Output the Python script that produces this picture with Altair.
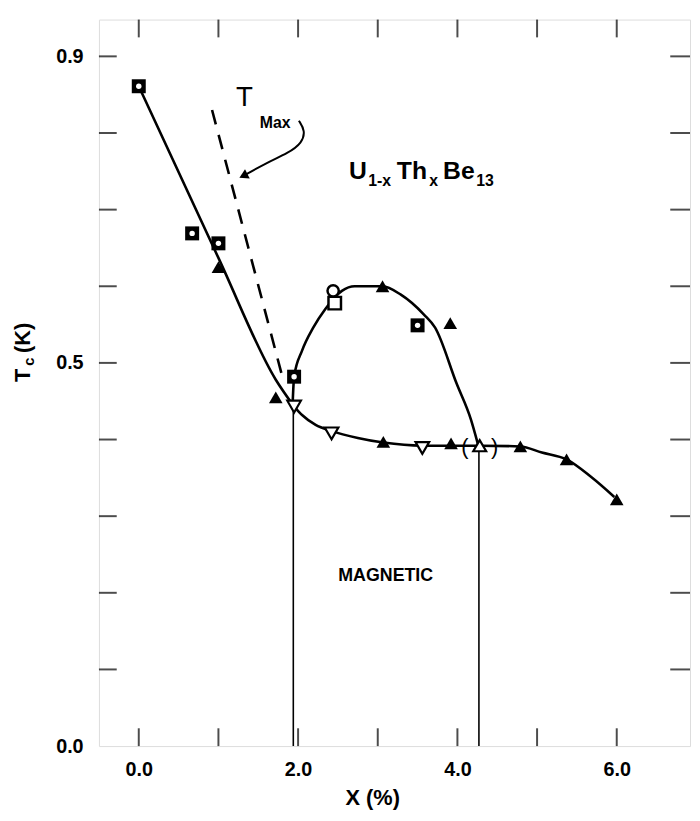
import altair as alt
import pandas as pd

# ---------------- data ----------------
x_tick_vals = [0, 1, 2, 3, 4, 5, 6]
y_tick_vals = [0.1, 0.2, 0.3, 0.4, 0.5, 0.6, 0.7, 0.8, 0.9]
x_label_vals = [0.0, 2.0, 4.0, 6.0]
y_label_vals = [0.0, 0.5, 0.9]

# open squares (with hole) -- measurement set 1
sq_x = [0.0, 0.67, 1.0, 1.95, 3.5]
sq_y = [0.861, 0.669, 0.656, 0.482, 0.549]
# plain open square and open circle near x=2.45
osq_x = [2.46]
osq_y = [0.578]
oc_x = [2.44]
oc_y = [0.594]
# filled up-triangles
ft_x = [1.0, 1.72, 3.06, 3.91, 3.07, 3.92, 4.79, 5.37, 6.0]
ft_y = [0.625, 0.455, 0.600, 0.552, 0.397, 0.395, 0.391, 0.374, 0.322]
# open down-triangles
dt_x = [1.95, 2.42, 3.56]
dt_y = [0.443, 0.408, 0.389]
# open up-triangle (in parentheses)
ut_x = [4.28]
ut_y = [0.392]

# solid curves
main_x = [0.0, 1.0, 1.72, 1.95]
main_y = [0.861, 0.637, 0.478, 0.443]
dome_x = [1.93, 1.95, 2.05, 2.19, 2.34, 2.55, 2.71, 3.06, 3.29, 3.58, 3.72, 3.99, 4.17, 4.26]
dome_y = [0.443, 0.482, 0.516, 0.546, 0.570, 0.594, 0.600, 0.600, 0.589, 0.563, 0.546, 0.473, 0.426, 0.393]
low_x = [1.95, 2.05, 2.22, 2.42, 2.75, 3.07, 3.56, 3.92, 4.28, 4.79, 5.06, 5.37, 5.68, 5.97]
low_y = [0.443, 0.432, 0.419, 0.411, 0.402, 0.396, 0.392, 0.392, 0.392, 0.391, 0.383, 0.374, 0.351, 0.325]
# dashed T_max line
tmax_x = [0.92, 1.82]
tmax_y = [0.830, 0.475]
# vertical phase lines
vl_x = [1.94, 4.27]
vl_top = [0.443, 0.393]
# annotation arrow
arr_x = [2.01, 2.09, 2.05, 1.88, 1.60, 1.33]
arr_y = [0.816, 0.803, 0.787, 0.774, 0.761, 0.745]

# ---------------- layout ----------------
W, H = 598, 735
FONT = "Liberation Sans"

xscale = alt.Scale(domain=[-0.5, 6.92], nice=False, zero=False)
yscale = alt.Scale(domain=[0.0, 0.948], nice=False, zero=False)
xaxis = alt.Axis(values=x_label_vals, format=".1f", ticks=False, domain=False, grid=False,
                 labelFont=FONT, labelFontWeight="bold", labelFontSize=20, labelColor="black",
                 labelPadding=14, title=None)
yaxis = alt.Axis(values=y_label_vals, format=".1f", ticks=False, domain=False, grid=False,
                 labelFont=FONT, labelFontWeight="bold", labelFontSize=20, labelColor="black",
                 labelPadding=16, title=None)


def X(field="x"):
    return alt.X(f"{field}:Q", scale=xscale, axis=xaxis)


def Y(field="y"):
    return alt.Y(f"{field}:Q", scale=yscale, axis=yaxis)


def df(xs, ys):
    return pd.DataFrame({"x": xs, "y": ys})


layers = []

# inward ticks (bottom/top/left/right)
xt = pd.DataFrame({"x": x_tick_vals})
yt = pd.DataFrame({"y": y_tick_vals})
layers.append(alt.Chart(xt).mark_tick(orient="vertical", size=18, thickness=2, color="black")
              .encode(x=X(), y=alt.value(H - 9)))
layers.append(alt.Chart(xt).mark_tick(orient="vertical", size=18, thickness=2, color="black")
              .encode(x=X(), y=alt.value(9)))
layers.append(alt.Chart(yt).mark_tick(orient="horizontal", size=18, thickness=2, color="black")
              .encode(y=Y(), x=alt.value(9)))
layers.append(alt.Chart(yt).mark_tick(orient="horizontal", size=20, thickness=2, color="black")
              .encode(y=Y(), x=alt.value(W - 10)))

# vertical phase lines
vdf = pd.DataFrame({"x": vl_x, "y": vl_top, "y0": [0.0, 0.0]})
layers.append(alt.Chart(vdf).mark_rule(color="black", strokeWidth=1.6)
              .encode(x=X(), y=Y(), y2="y0:Q"))

# curves
layers.append(alt.Chart(df(main_x, main_y)).mark_line(color="black", strokeWidth=2.6, interpolate="monotone")
              .encode(x=X(), y=Y()))
layers.append(alt.Chart(df(dome_x, dome_y)).mark_line(color="black", strokeWidth=2.6, interpolate="monotone")
              .encode(x=X(), y=Y()))
layers.append(alt.Chart(df(low_x, low_y)).mark_line(color="black", strokeWidth=2.6, interpolate="monotone")
              .encode(x=X(), y=Y()))
layers.append(alt.Chart(df(tmax_x, tmax_y)).mark_line(color="black", strokeWidth=2.6, strokeDash=[15, 11])
              .encode(x=X(), y=Y()))

# arrow
adf = df(arr_x, arr_y)
adf["o"] = range(len(adf))
layers.append(alt.Chart(adf).mark_line(color="black", strokeWidth=2, interpolate="basis")
              .encode(x=X(), y=Y(), order="o:O"))
layers.append(alt.Chart(df(arr_x[-1:], arr_y[-1:])).mark_point(shape="triangle", filled=True, color="black",
                                                                 size=110, angle=243, opacity=1)
              .encode(x=X(), y=Y()))

# markers
layers.append(alt.Chart(df(sq_x, sq_y)).mark_point(shape="square", filled=True, color="black", size=200, opacity=1)
              .encode(x=X(), y=Y()))
layers.append(alt.Chart(df(sq_x, sq_y)).mark_point(shape="circle", filled=True, color="white", size=30, opacity=1)
              .encode(x=X(), y=Y()))
layers.append(alt.Chart(df(osq_x, osq_y)).mark_point(shape="square", filled=True, fill="white", stroke="black",
                                                     strokeWidth=2.5, size=160, opacity=1)
              .encode(x=X(), y=Y()))
layers.append(alt.Chart(df(oc_x, oc_y)).mark_point(shape="circle", filled=True, fill="white", stroke="black",
                                                   strokeWidth=2.5, size=130, opacity=1)
              .encode(x=X(), y=Y()))
layers.append(alt.Chart(df(ft_x, ft_y)).mark_point(shape="triangle-up", filled=True, color="black", size=190, opacity=1)
              .encode(x=X(), y=Y()))
layers.append(alt.Chart(df(dt_x, dt_y)).mark_point(shape="triangle-down", filled=True, fill="white", stroke="black",
                                                   strokeWidth=2.2, size=190, opacity=1)
              .encode(x=X(), y=Y()))
layers.append(alt.Chart(df(ut_x, ut_y)).mark_point(shape="triangle-up", filled=True, fill="white", stroke="black",
                                                   strokeWidth=2.2, size=170, opacity=1)
              .encode(x=X(), y=Y()))
layers.append(alt.Chart(df(ut_x, ut_y)).mark_text(text="(", font=FONT, fontSize=22, dx=-15, dy=1, color="black")
              .encode(x=X(), y=Y()))
layers.append(alt.Chart(df(ut_x, ut_y)).mark_text(text=")", font=FONT, fontSize=22, dx=15, dy=1, color="black")
              .encode(x=X(), y=Y()))

# annotations inside plot
def txt(t, x, y, size, weight="bold", align="left", baseline="alphabetic"):
    return (alt.Chart(pd.DataFrame({"x": [x], "y": [y]}))
            .mark_text(text=t, font=FONT, fontSize=size, fontWeight=weight, align=align,
                       baseline=baseline, color="black")
            .encode(x=X(), y=Y()))

layers.append(txt("MAGNETIC", 3.1, 0.222, 18, align="center", baseline="middle"))
# U1-xThxBe13
layers.append(txt("U", 2.64, 0.740, 25))
layers.append(txt("1-x", 2.88, 0.731, 16))
layers.append(txt("Th", 3.24, 0.740, 25))
layers.append(txt("x", 3.645, 0.731, 16))
layers.append(txt("Be", 3.82, 0.740, 25))
layers.append(txt("13", 4.235, 0.731, 16))
# T_Max
layers.append(txt("T", 1.22, 0.835, 28, weight="normal"))
layers.append(txt("Max", 1.52, 0.806, 16, weight="bold"))

# axis titles as text (with subscript)
def ptxt(t, px, py, size, angle=0, align="center"):
    return (alt.Chart(pd.DataFrame({"a": [0]}))
            .mark_text(text=t, font=FONT, fontSize=size, fontWeight="bold", angle=angle, align=align,
                       baseline="middle", color="black")
            .encode(x=alt.value(px), y=alt.value(py)))

layers.append(ptxt("X (%)", 277, 788, 22))
layers.append(ptxt("T", -77, 360, 22, angle=270))
layers.append(ptxt("c", -71, 346, 15, angle=270))
layers.append(ptxt("(K)", -77, 322, 22, angle=270))

chart = (alt.layer(*layers)
         .properties(width=W, height=H, autosize="none",
                     padding={"left": 92, "top": 7, "right": 2, "bottom": 63})
         .configure_view(stroke="black", strokeWidth=2.5)
         .configure(background="white"))

chart.save("out.html", embed_options={"renderer": "svg", "actions": False})
